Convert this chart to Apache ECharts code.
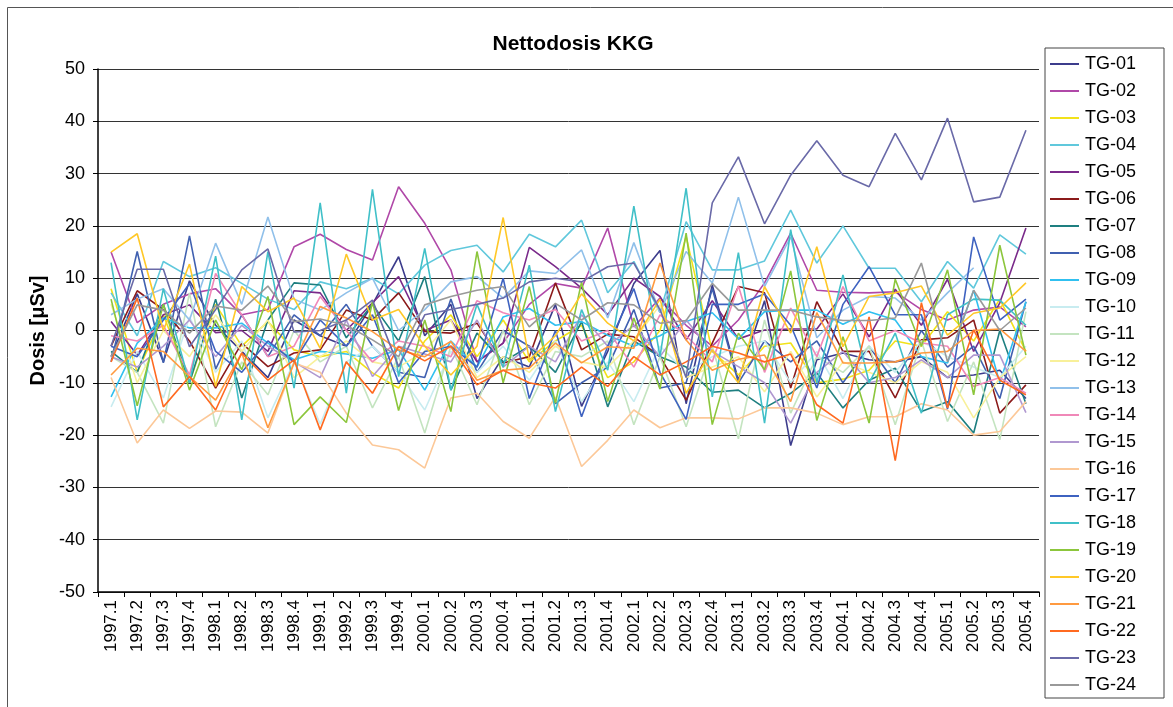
<!DOCTYPE html>
<html>
<head>
<meta charset="utf-8">
<script src="https://cdn.jsdelivr.net/npm/echarts@6/dist/echarts.min.js"></script>
<style>
  html, body { margin: 0; padding: 0; background: #fff; }
  #chart { width: 1173px; height: 707px; }
</style>
</head>
<body>
<div id="chart"></div>
<script>
// Quarterly periods 1997.1 – 2005.4
const quarters = [];
for (let y = 1997; y <= 2005; y++) for (let q = 1; q <= 4; q++) quarters.push(y + '.' + q);

const yTicks = { min: -50, max: 50, step: 10 };

// Net dose per dosimeter [µSv]
const TG01 = [-5, 7, -6, 9.5, 1, -4, -9, 2, -1, -3, 5, 14.1, -1, 5, -13, -5, -7, 5, -14.5, -4, 9, 15.3, -14, 8.7, -9.5, 5.7, -22, -5.6, -4.3, -5.6, -6, -5, -9, -8.5, -7.6, -13];
const TG02 = [15, 1.5, 5, 7, 8, 3, 4, 16, 18.4, 15.5, 13.5, 27.5, 20.5, 11.6, -6, -2.4, 5, 9, 8.1, 19.6, 0.7, 6.2, 1, -3, 2, 9.1, 18.6, 7.7, 7.3, 7.2, 7.4, 4, 2, 3.9, 4.5, 0.7];
const TG03 = [8, -8, 3, -10, 5, -3, 1.7, -3.7, -5, -4, -8.1, -11, -2, 3, -5, 2, -6, -2, 1, -9, -6, 0, 18, -4, -8.5, -3, -2.4, -10, -9.3, -7.6, -2, -3, 3.6, -2, 6, -4];
const TG04 = [7.2, -1, 13.2, 10.3, 12, 9, 6, 4, 9.3, 8, 10, 7, 12.5, 15.3, 16.3, 11.2, 18.4, 16, 21.1, 7.2, 13.2, 3.4, 20.8, 11.6, 11.6, 13.3, 23, 12.9, 20, 11.9, 11.9, 5.5, 13.2, 8.1, 18.3, 14.6];
const TG05 = [1.7, -4.7, 3, 4.9, -0.4, 0, -4, 7.6, 7.2, 0, 5.3, 10.3, 0, 2, -6, -2.4, 15.9, 12.2, 8.1, 3, 10, 6.5, -1.8, 5.7, -1.6, 0.1, 0.3, 0.3, 7, -1.2, 7.9, 1, 9.8, -4, 5.3, 19.6];
const TG06 = [-3, 7.6, 4, -2, -11, -2.4, -6.9, -4.3, -3.7, 3.9, 2, 7.2, -0.2, -0.5, 1.4, -6.2, -5, 9.1, -3.7, -0.7, -1.2, -5, -13.3, -2.4, 8.4, 7.2, -11, 5.5, -4, -4, -12.9, -1.8, -1.4, 2, -15.8, -10.4];
const TG07 = [-4, -8, 5, -10, 6, -12.9, 2, 9.1, 8.7, -1.4, 5, -2, 10.3, -11.4, -0.5, -6, -3, -8, 1.7, -14.6, -2, -5, -7, -11.8, -11.4, -14.8, -12, -8.1, -14.8, -9.5, -7.2, -15.5, -13.6, -19.6, 0, -14];
const TG08 = [-6, 15.1, -6.2, 18.1, -7.4, 3, -5, 3, -1, 5, -3, -8, -9, 6, -8, 0, -3, -14, -10, -7, 4, -11, -10, 8, -10, -2, -6, -2, -10, -3, -10, 0, -7, -3, -13, 5.5];
const TG09 = [-12.7, -2.4, 2.4, 0.5, 0.5, 1.4, -2.4, -5.6, -4, -4.5, -5.3, -3.7, -11.4, -2, -7, 2.6, 4.2, 1, 1.7, -0.9, -3, -1, 1.7, 3.4, -1.6, 3.6, 3.9, 3.9, 1.2, 3.6, 2, -5, -6.2, 7.7, -10, 5.5];
const TG10 = [-14.6, -4, -12.9, 2.6, -8, -2, -16.7, -6, -17.9, -6, -3, -8, -15.2, -4, -8, -3, -9.5, -2, -13.6, -6, -13.6, -3, -8, -5, -3, -2, -10, -4, -13, -3, -8, -2, -5, -7, -9, -3];
const TG11 = [-5, -8, -17.7, 7.2, -18.4, -6, -12.3, 0, -6, -3, -14.8, -5, -19.6, -3, -14.2, 0, -14.2, -4, -5, -2, -18, -5, -18.4, -3, -20.7, 2, -15.8, -5, -8, -3, -18, -2, -17.4, -6, -20.9, 3.6];
const TG12 = [5, -10, 0, -5, 3, -4, 2, -9, -5, -2, -6, -7, -4, 2, -9, -5, -8, -3, -6, -7, -2, 4.9, -9, -7, -5, -11.7, -4, -12.7, -6, -8, -10, -6, -8, -16.7, -9, -5];
const TG13 = [3, 6, 8, 2, 16.7, 5, 21.7, 6, 3.9, 7.2, 10, 0, 4, 9.3, 10.3, 6.2, 11.4, 10.9, 15.4, 2.4, 16.8, 3.4, 15.1, 9.1, 25.5, 8.4, 17.9, -1.4, 3.9, 6.5, 6.2, 2, 7.2, 12, null, null];
const TG14 = [-1, -2, 1, -8.5, 10.9, 3, -5, -3, 6.5, 0, -6, -2, -3, -5, 5.7, 3.4, 2, 4, -2, 0, -7, 3, -1, -6, 8.5, -8, 4.3, -5, 8.4, -2, 0, -2.4, -3, -10.7, -9, -12];
const TG15 = [-5, -7, -3, 2, -5, 1, -3, -6, -9, 2, -8.8, -3, -4.5, -6, 2, -7, -3, -6, 3, -3, 1, -5, 2, -4, -6.9, -10, -17.7, -8, -4, -10, -9, -5.6, -9, -4.7, -4.7, -15.7];
const TG16 = [-9, -21.5, -15.2, -18.7, -15.4, -15.6, -19.6, -6.2, -8, -15.8, -21.9, -22.8, -26.3, -12.9, -12, -17.4, -20.6, -12.7, -26, -21, -15.2, -18.6, -16.7, -16.7, -16.9, -14.8, -14.8, -15.8, -18, -16.5, -16.5, -14, -15.2, -20, -19.3, -13.6];
const TG17 = [-3, -5, 2, 9, -4, -8, -2, -6, 2, -3, 3, -10, -4, -3, -7, 10, -13, 0, -16.5, -3, 8, -8, -17, 5, 5, 7, 1, -11, 5, 12.2, 3, 3, -15, 17.9, 2, 6];
const TG18 = [13, -17.1, 8, -10, 14.2, -17.1, 15.1, -11, 24.4, -12, 27, -8.8, 15.7, -11.4, 5, -7, 12.5, -15.5, 4, -7.6, 23.8, -5, 27.2, -12.7, 14.9, -17.7, 19.3, -10, 10.6, -10, -0.5, -15.8, 3, 6, 5.8, 1];
const TG19 = [6, -14.4, 5, -11.4, 2, -7.5, 6.5, -18, -12.7, -17.6, 5.5, -15.3, 2, -15.5, 15.1, -10, 8.4, -13.9, 9.3, -13.6, 2.4, -11.2, 18.6, -18, -0.5, -7.5, 11.4, -17.2, -1.2, -17.7, 9.8, -3, 11.6, -12.3, 16.3, -4.7];
const TG20 = [15, 18.5, 0, 12.7, -10.7, 8.4, 3.6, 6.2, -3.4, 14.6, 2, 4, -3, -8.5, -3, 21.6, -5.6, -1, 7, 1.4, -2, 6, -12, -3.7, -10, 8.4, -0.5, 16, -3.1, 6.5, 7.2, 8.5, -0.9, 3.3, 4.3, 9.1];
const TG21 = [-8.5, -3.4, -4, -8.8, -13.3, -4.3, -18.6, -6.2, 4.6, 2.4, -0.2, -3.7, -5, -2.1, -9.5, -7.6, -7.2, -2.4, -6.2, -3.1, -3.4, 12.9, -1.8, -7.6, -5.5, -4.7, -13.6, 3.4, -6.2, -6.2, -6, -4.3, -4, 0, 0.3, -4];
const TG22 = [-6, 6.2, -14.6, -8.8, -15.2, -4.3, -9.5, -5.6, -19, -6, -12, -3.1, -5.8, -3, -10.4, -7.6, -10, -11, -7, -10.7, -5, -8.5, -6, -3, -4.3, -6, -4.5, -14.2, -17.7, 2.6, -24.9, 5.3, -14.8, 0.1, -9.5, -12.3];
const TG23 = [-3, 11.7, 11.7, -3.1, 4, 11.6, 15.6, -0.3, 0, 2, 5.8, -6.9, 3, 4, 5, 6.2, 9.3, 10, 9.3, 12.2, 12.9, 4, -9, 24.4, 33.2, 20.4, 29.7, 36.3, 29.7, 27.5, 37.7, 28.8, 40.6, 24.6, 25.5, 38.3];
const TG24 = [-5, 4.9, 3.9, -0.5, 4.7, 3.9, 8.5, 1.7, 2.2, 1, -1.8, -5, 4.9, 6.5, 7.7, 8.4, 0.7, 5.2, 2, 5.3, 4.9, 1.4, 1.9, 9, 3.9, 3.9, 3.9, 2.6, 1.9, 1.9, 2.4, 12.9, -6, 7.7, 0, 4.3];

const seriesNames = ['TG-01','TG-02','TG-03','TG-04','TG-05','TG-06','TG-07','TG-08','TG-09','TG-10','TG-11','TG-12',
                     'TG-13','TG-14','TG-15','TG-16','TG-17','TG-18','TG-19','TG-20','TG-21','TG-22','TG-23','TG-24'];
const seriesValues = [TG01, TG02, TG03, TG04, TG05, TG06, TG07, TG08, TG09, TG10, TG11, TG12,
                      TG13, TG14, TG15, TG16, TG17, TG18, TG19, TG20, TG21, TG22, TG23, TG24];
const seriesColors = ['#3c3c8c','#b048a8','#f2e21a','#60c8dc','#7a2a8a','#8b1a1a','#1e7f80','#4060b0',
                      '#30c0f0','#c8ecf0','#c4e4c0','#f8f09a','#90c0ea','#f088b8','#b098d0','#fcc898',
                      '#3e62c0','#40c0c8','#8cc63c','#ffc828','#ff9a40','#ff6a20','#6a6aa8','#999999'];

const FONT = 'Liberation Sans, Arial, sans-serif';

const chart = echarts.init(document.getElementById('chart'), null, { renderer: 'canvas' });

chart.setOption({
  animation: false,
  backgroundColor: '#ffffff',
  color: seriesColors,
  title: {
    text: 'Nettodosis KKG',
    left: 568, top: 29, textAlign: 'center',
    textStyle: { fontFamily: FONT, fontSize: 21, fontWeight: 'bold', color: '#000' }
  },
  graphic: [{
    type: 'rect', silent: true, z: -1,
    shape: { x: 7.5, y: 7.5, width: 1180, height: 710 },
    style: { fill: 'none', stroke: '#555', lineWidth: 1 }
  }],
  legend: {
    orient: 'vertical',
    left: 1045, top: 48,
    padding: [7, 28, 4, 5],
    backgroundColor: '#fff',
    borderColor: '#444', borderWidth: 1,
    icon: 'rect',
    itemWidth: 29, itemHeight: 2,
    itemGap: 9,
    data: seriesNames,
    textStyle: { fontFamily: FONT, fontSize: 18, color: '#000', lineHeight: 18, padding: [0, 0, 0, 1] }
  },
  grid: { left: 98, right: 134, top: 69, bottom: 115, containLabel: false },
  xAxis: {
    type: 'category',
    data: quarters,
    boundaryGap: true,
    axisLine: { onZero: false, lineStyle: { color: '#000', width: 1.5 } },
    axisTick: { show: true, interval: 0, length: 5, lineStyle: { color: '#000' } },
    axisLabel: { interval: 0, rotate: 90, margin: 8, fontFamily: FONT, fontSize: 17, color: '#000' },
    splitLine: { show: false }
  },
  yAxis: {
    type: 'value',
    min: yTicks.min, max: yTicks.max, interval: yTicks.step,
    name: 'Dosis [\u03bcSv]',
    nameLocation: 'middle', nameRotate: 90, nameGap: 50,
    nameTextStyle: { fontFamily: FONT, fontSize: 20, fontWeight: 'bold', color: '#000' },
    axisLine: { show: true, lineStyle: { color: '#000', width: 1.5 } },
    axisTick: { show: true, length: 5, lineStyle: { color: '#000' } },
    axisLabel: { margin: 13, fontFamily: FONT, fontSize: 18, color: '#000' },
    splitLine: { show: true, lineStyle: { color: '#333', width: 1 } }
  },
  series: seriesNames.map((name, i) => ({
    name,
    type: 'line',
    data: seriesValues[i],
    symbol: 'none',
    connectNulls: false,
    lineStyle: { width: 1.6, color: seriesColors[i] },
    itemStyle: { color: seriesColors[i] }
  }))
});
</script>
</body>
</html>
